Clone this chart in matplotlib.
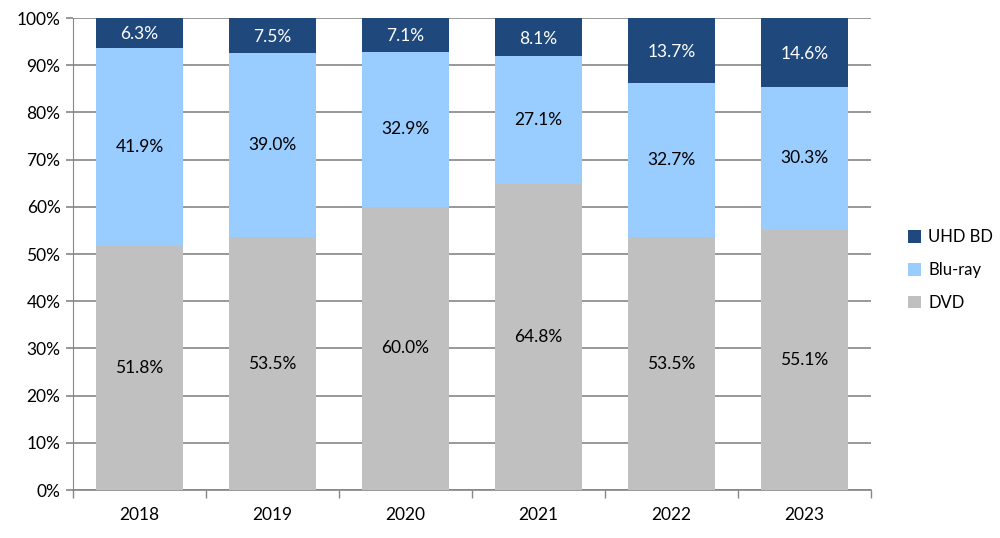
import numpy as np
import matplotlib
matplotlib.use('Agg')
import matplotlib.pyplot as plt
from matplotlib.ticker import FixedLocator, NullFormatter

plt.rcParams['font.family'] = ['Lato', 'DejaVu Sans']

#chart data
years = ['2018', '2019', '2020', '2021', '2022', '2023']
dvd = [51.8, 53.5, 60.0, 64.8, 53.5, 55.1]
bluray = [41.9, 39.0, 32.9, 27.1, 32.7, 30.3]
uhd = [6.3, 7.5, 7.1, 8.1, 13.7, 14.6]

c_dvd = '#C0C0C0'
c_blu = '#99CCFF'
c_uhd = '#1F497D'
grid_c = '#868686'

fig = plt.figure(figsize=(10, 5.38), dpi=100)
ax = fig.add_axes([0.073, 0.0892, 0.798, 0.8773])

x = np.arange(len(years))
w = 0.655
dvd_a = np.array(dvd)
blu_a = np.array(bluray)
uhd_a = np.array(uhd)

b1 = ax.bar(x, dvd_a, w, color=c_dvd, label='DVD', zorder=3)
b2 = ax.bar(x, blu_a, w, bottom=dvd_a, color=c_blu, label='Blu-ray', zorder=3)
# top segment fills up to 100% as in the source chart
b3 = ax.bar(x, 100 - dvd_a - blu_a, w, bottom=dvd_a + blu_a, color=c_uhd, label='UHD BD', zorder=3)

fs = 12.5
for i in range(len(years)):
    ax.text(x[i], dvd_a[i] / 2, '{0:.1f}%'.format(dvd_a[i]), ha='center', va='center', fontsize=fs, color='black', zorder=4)
    ax.text(x[i], dvd_a[i] + blu_a[i] / 2, '{0:.1f}%'.format(blu_a[i]), ha='center', va='center', fontsize=fs, color='black', zorder=4)
    top0 = dvd_a[i] + blu_a[i]
    ax.text(x[i], (top0 + 100) / 2 - 0.3, '{0:.1f}%'.format(uhd_a[i]), ha='center', va='center', fontsize=fs, color='white', zorder=4)

ax.set_xlim(-0.5, len(years) - 0.5)
ax.set_ylim(0, 100)
ax.set_yticks(np.arange(0, 101, 10))
ax.set_yticklabels(['{0}%'.format(v) for v in range(0, 101, 10)], fontsize=fs)
ax.yaxis.grid(True, color=grid_c, linewidth=1.2, zorder=0)

# category labels, with ticks between categories
ax.set_xticks(x)
ax.set_xticklabels(years, fontsize=fs)
ax.tick_params(axis='x', which='major', length=0, pad=12)
ax.xaxis.set_minor_locator(FixedLocator(np.arange(-0.5, len(years), 1.0)))
ax.xaxis.set_minor_formatter(NullFormatter())
ax.tick_params(axis='x', which='minor', length=6, color=grid_c, width=1)
ax.tick_params(axis='y', length=5, color=grid_c, width=1.2, pad=4)

for s in ['top', 'right']:
    ax.spines[s].set_visible(False)
ax.spines['left'].set_color(grid_c)
ax.spines['bottom'].set_color(grid_c)
ax.spines['bottom'].set_linewidth(1.2)

handles = [b3, b2, b1]
leg = fig.legend(handles, ['UHD BD', 'Blu-ray', 'DVD'], loc='center left',
                 bbox_to_anchor=(0.893, 0.498), frameon=False, fontsize=12,
                 handlelength=0.8, handleheight=0.8, handletextpad=0.4, labelspacing=1.0)

fig.savefig('out.png', dpi=100)
